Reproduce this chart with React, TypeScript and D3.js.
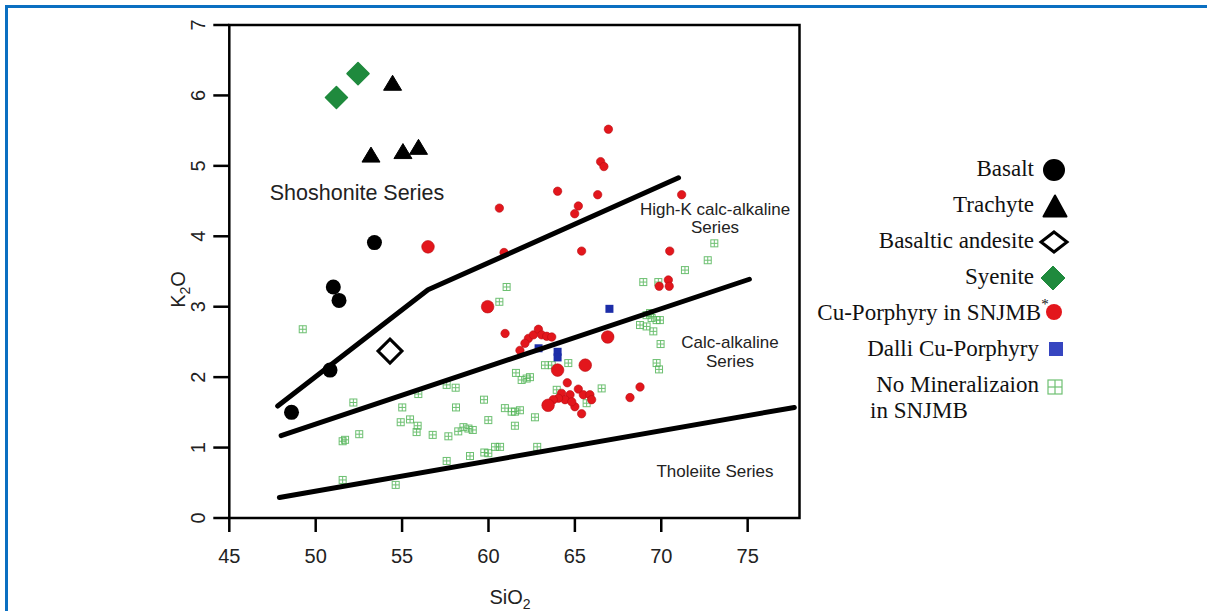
import React from 'react';
import * as d3 from 'd3';

const W = 1207;
const H = 611;

// axis ticks
const xTicks = [45, 50, 55, 60, 65, 70, 75];
const yTicks = [0, 1, 2, 3, 4, 5, 6, 7];

// series boundary lines (SiO2, K2O)
const shoshoniteBoundary: [number, number][] = [[47.8, 1.59], [56.5, 3.24], [71.0, 4.83]];
const highKBoundary: [number, number][] = [[48.0, 1.17], [75.1, 3.39]];
const tholeiiteBoundary: [number, number][] = [[47.9, 0.29], [77.7, 1.57]];

// samples
const basalt: [number, number][] = [[48.6, 1.5], [50.83, 2.1], [51.02, 3.28], [51.35, 3.09], [53.4, 3.91]];
const trachyte: [number, number][] = [[54.45, 6.18], [53.2, 5.16], [55.05, 5.21], [55.95, 5.27]];
const basalticAndesite: [number, number][] = [[54.3, 2.37]];
const syenite: [number, number][] = [[51.2, 5.97], [52.45, 6.31]];
const cuPorphyryLarge: [number, number][] = [
  [56.5, 3.85], [59.95, 3.0], [66.9, 2.57], [64.0, 2.1], [65.6, 2.17], [63.45, 1.6],
];
const cuPorphyry: [number, number][] = [
  [66.94, 5.52], [66.49, 5.06], [66.68, 4.99], [64.0, 4.64], [66.32, 4.59], [60.63, 4.4],
  [65.2, 4.43], [64.99, 4.32], [71.18, 4.59], [60.9, 3.77], [65.39, 3.79], [70.49, 3.79],
  [70.41, 3.38], [69.88, 3.29], [70.46, 3.29], [60.96, 2.62], [62.31, 2.55], [62.6, 2.6],
  [62.89, 2.68], [63.08, 2.6], [63.37, 2.58], [63.66, 2.57], [62.11, 2.48], [61.82, 2.38],
  [64.56, 1.92], [64.23, 1.77], [64.72, 1.75], [65.2, 1.83], [65.49, 1.75], [65.87, 1.75],
  [65.97, 1.68], [64.43, 1.68], [64.05, 1.7], [65.0, 1.58], [65.39, 1.48], [64.82, 1.65],
  [63.75, 1.68], [68.77, 1.86], [68.19, 1.71],
];
const dalli: [number, number][] = [[67.0, 2.97], [64.0, 2.36], [64.0, 2.28], [62.9, 2.41]];
const noMineralization: [number, number][] = [
  [49.25, 2.68], [52.18, 1.64], [51.56, 1.09], [51.7, 1.11], [52.52, 1.19], [55.01, 1.57],
  [54.92, 1.36], [55.46, 1.4], [55.9, 1.31], [55.84, 1.22], [56.77, 1.18], [57.68, 1.16],
  [58.25, 1.23], [58.55, 1.29], [58.84, 1.27], [59.09, 1.25], [58.12, 1.57], [58.1, 1.85],
  [55.94, 1.76], [57.58, 1.89], [57.58, 0.81], [58.93, 0.88], [51.56, 0.54], [54.63, 0.47],
  [61.05, 3.28], [60.63, 3.07], [59.74, 1.68], [59.99, 1.39], [59.76, 0.93], [59.99, 0.92],
  [60.38, 1.01], [60.67, 1.01], [60.95, 1.56], [61.34, 1.51], [61.53, 1.51], [61.82, 1.53],
  [62.69, 1.43], [61.53, 1.31], [62.82, 1.01], [61.59, 2.06], [61.92, 1.96], [62.21, 1.98],
  [62.4, 2.0], [63.27, 2.17], [63.66, 2.17], [64.62, 2.2], [63.95, 1.82], [65.68, 1.63],
  [66.55, 1.84], [69.15, 2.88], [69.44, 2.84], [69.73, 2.81], [68.77, 2.74], [69.15, 2.72],
  [69.54, 2.65], [69.92, 2.81], [69.35, 2.91], [69.96, 2.47], [69.73, 2.2], [69.87, 2.11],
  [68.96, 3.35], [69.83, 3.35], [71.37, 3.52], [72.69, 3.66], [73.07, 3.9],
];

const legendItems = [
  'Basalt', 'Trachyte', 'Basaltic andesite', 'Syenite',
  'Cu-Porphyry in SNJMB', 'Dalli Cu-Porphyry', 'No Mineralizaion',
];

const SANS = 'Liberation Sans, Arial, sans-serif';
const SERIF = 'Liberation Serif, Times New Roman, serif';
const RED = '#e3161c';
const GREEN = '#1f8a3d';
const LIGHT_GREEN = '#55b65a';
const BLUE = '#1c2da8';

const diamond = (cx: number, cy: number, rx: number, ry: number) =>
  `M${cx},${cy - ry}L${cx + rx},${cy}L${cx},${cy + ry}L${cx - rx},${cy}Z`;
const triangle = (cx: number, cy: number, w: number, h: number) =>
  `M${cx},${cy - h / 2}L${cx + w / 2},${cy + h / 2}L${cx - w / 2},${cy + h / 2}Z`;

const CrossSquare = ({ cx, cy, s, sw = 1 }: { cx: number; cy: number; s: number; sw?: number }) => (
  <g stroke={LIGHT_GREEN} strokeWidth={sw} fill="none" opacity={0.85}>
    <rect x={cx - s / 2} y={cy - s / 2} width={s} height={s} />
    <line x1={cx - s / 2} x2={cx + s / 2} y1={cy} y2={cy} />
    <line x1={cx} x2={cx} y1={cy - s / 2} y2={cy + s / 2} />
  </g>
);

export default function App() {
  const x = d3.scaleLinear().domain([45, 78]).range([229.3, 799.5]);
  const y = d3.scaleLinear().domain([0, 7]).range([518, 25]);
  const line = d3.line<[number, number]>().x(d => x(d[0])).y(d => y(d[1]));

  const left = x(45), right = x(78), top = y(7), bottom = y(0);

  const legendY = (i: number) => 176 + i * 36;

  return (
    <svg width={W} height={H} style={{ position: 'absolute', left: 0, top: 0, background: '#fff' }}>
      {/* page frame */}
      <line x1={5} x2={W} y1={6.5} y2={6.5} stroke="#0b6fc1" strokeWidth={3} />
      <line x1={6.5} x2={6.5} y1={5} y2={H} stroke="#0b6fc1" strokeWidth={3} />

      {/* no mineralization */}
      {noMineralization.map((d, i) => (
        <CrossSquare key={'nm' + i} cx={x(d[0])} cy={y(d[1])} s={7} />
      ))}
      {cuPorphyry.map((d, i) => (
        <circle key={'cu' + i} cx={x(d[0])} cy={y(d[1])} r={4.2} fill={RED} stroke="#b80d12" strokeWidth={0.6} />
      ))}
      {cuPorphyryLarge.map((d, i) => (
        <circle key={'cuL' + i} cx={x(d[0])} cy={y(d[1])} r={6.3} fill={RED} stroke="#b80d12" strokeWidth={0.6} />
      ))}
      {dalli.map((d, i) => (
        <rect key={'da' + i} x={x(d[0]) - 4} y={y(d[1]) - 4} width={8} height={8} fill={BLUE} />
      ))}

      {/* boundaries */}
      {[shoshoniteBoundary, highKBoundary, tholeiiteBoundary].map((b, i) => (
        <path key={'b' + i} d={line(b) || ''} fill="none" stroke="#000" strokeWidth={5} strokeLinecap="round" strokeLinejoin="round" />
      ))}

      {basalt.map((d, i) => (
        <circle key={'ba' + i} cx={x(d[0])} cy={y(d[1])} r={7.5} fill="#000" />
      ))}
      {trachyte.map((d, i) => (
        <path key={'tr' + i} d={triangle(x(d[0]), y(d[1]), 18, 15)} fill="#000" stroke="#000" strokeWidth={1} strokeLinejoin="round" />
      ))}
      {syenite.map((d, i) => (
        <path key={'sy' + i} d={diamond(x(d[0]), y(d[1]), 11, 11)} fill={GREEN} stroke={GREEN} strokeWidth={1.5} strokeLinejoin="round" />
      ))}
      {basalticAndesite.map((d, i) => (
        <path key={'bn' + i} d={diamond(x(d[0]), y(d[1]), 12, 12)} fill="#fff" stroke="#000" strokeWidth={3} />
      ))}

      {/* plot box */}
      <rect x={left} y={top} width={right - left} height={bottom - top} fill="none" stroke="#000" strokeWidth={2.5} />

      {/* x axis */}
      {xTicks.map(t => (
        <g key={'xt' + t}>
          <line x1={x(t)} x2={x(t)} y1={bottom} y2={bottom + 14} stroke="#000" strokeWidth={2.5} />
          <text x={x(t)} y={563} textAnchor="middle" fontFamily={SANS} fontSize={20} fill="#222">{t}</text>
        </g>
      ))}
      <text x={510} y={604} textAnchor="middle" fontFamily={SANS} fontSize={20} fill="#222">
        SiO<tspan fontSize={14} dy={5}>2</tspan>
      </text>

      {/* y axis */}
      {yTicks.map(t => (
        <g key={'yt' + t}>
          <line x1={left - 16} x2={left} y1={y(t)} y2={y(t)} stroke="#000" strokeWidth={2.5} />
          <text transform={`translate(205,${y(t)}) rotate(-90)`} textAnchor="middle" fontFamily={SANS} fontSize={20} fill="#222">{t}</text>
        </g>
      ))}
      <text transform={`translate(185,${(top + bottom) / 2 + 18}) rotate(-90)`} textAnchor="middle" fontFamily={SANS} fontSize={20} fill="#222">
        K<tspan fontSize={14} dy={5}>2</tspan><tspan dy={-5}>O</tspan>
      </text>

      {/* series labels */}
      <text x={357} y={200} textAnchor="middle" fontFamily={SANS} fontSize={21.5} fill="#222">Shoshonite Series</text>
      <text x={715} y={215} textAnchor="middle" fontFamily={SANS} fontSize={17} fill="#222">High-K calc-alkaline</text>
      <text x={715} y={233} textAnchor="middle" fontFamily={SANS} fontSize={17} fill="#222">Series</text>
      <text x={730} y={348} textAnchor="middle" fontFamily={SANS} fontSize={17} fill="#222">Calc-alkaline</text>
      <text x={730} y={366.5} textAnchor="middle" fontFamily={SANS} fontSize={17} fill="#222">Series</text>
      <text x={715} y={477} textAnchor="middle" fontFamily={SANS} fontSize={17} fill="#222">Tholeiite Series</text>

      {/* legend */}
      {legendItems.map((label, i) => {
        const ly = legendY(i);
        const endX = i === 4 ? 1041 : i === 5 || i === 6 ? 1039 : 1034;
        return (
          <text key={'lg' + i} x={endX} y={ly} textAnchor="end" fontFamily={SERIF} fontSize={23} fill="#111">{label}</text>
        );
      })}
      <text x={870} y={418} fontFamily={SERIF} fontSize={23} fill="#111">in SNJMB</text>
      <text x={1045} y={309} textAnchor="middle" fontFamily={SERIF} fontSize={15} fill="#111">*</text>
      <circle cx={1054} cy={legendY(0) - 6} r={11} fill="#000" />
      <path d={triangle(1055, legendY(1) - 6, 23, 21)} fill="#000" stroke="#000" strokeWidth={2} strokeLinejoin="round" />
      <path d={diamond(1054, legendY(2) - 6, 13, 10)} fill="#fff" stroke="#000" strokeWidth={3} />
      <path d={diamond(1053, legendY(3) - 6, 12, 12)} fill={GREEN} stroke={GREEN} strokeWidth={1} strokeLinejoin="round" />
      <circle cx={1054} cy={legendY(4) - 8} r={8} fill={RED} />
      <rect x={1049} y={legendY(5) - 14} width={14} height={14} fill="#3645c0" />
      <CrossSquare cx={1055} cy={legendY(6) - 5} s={14} sw={1.2} />
    </svg>
  );
}
